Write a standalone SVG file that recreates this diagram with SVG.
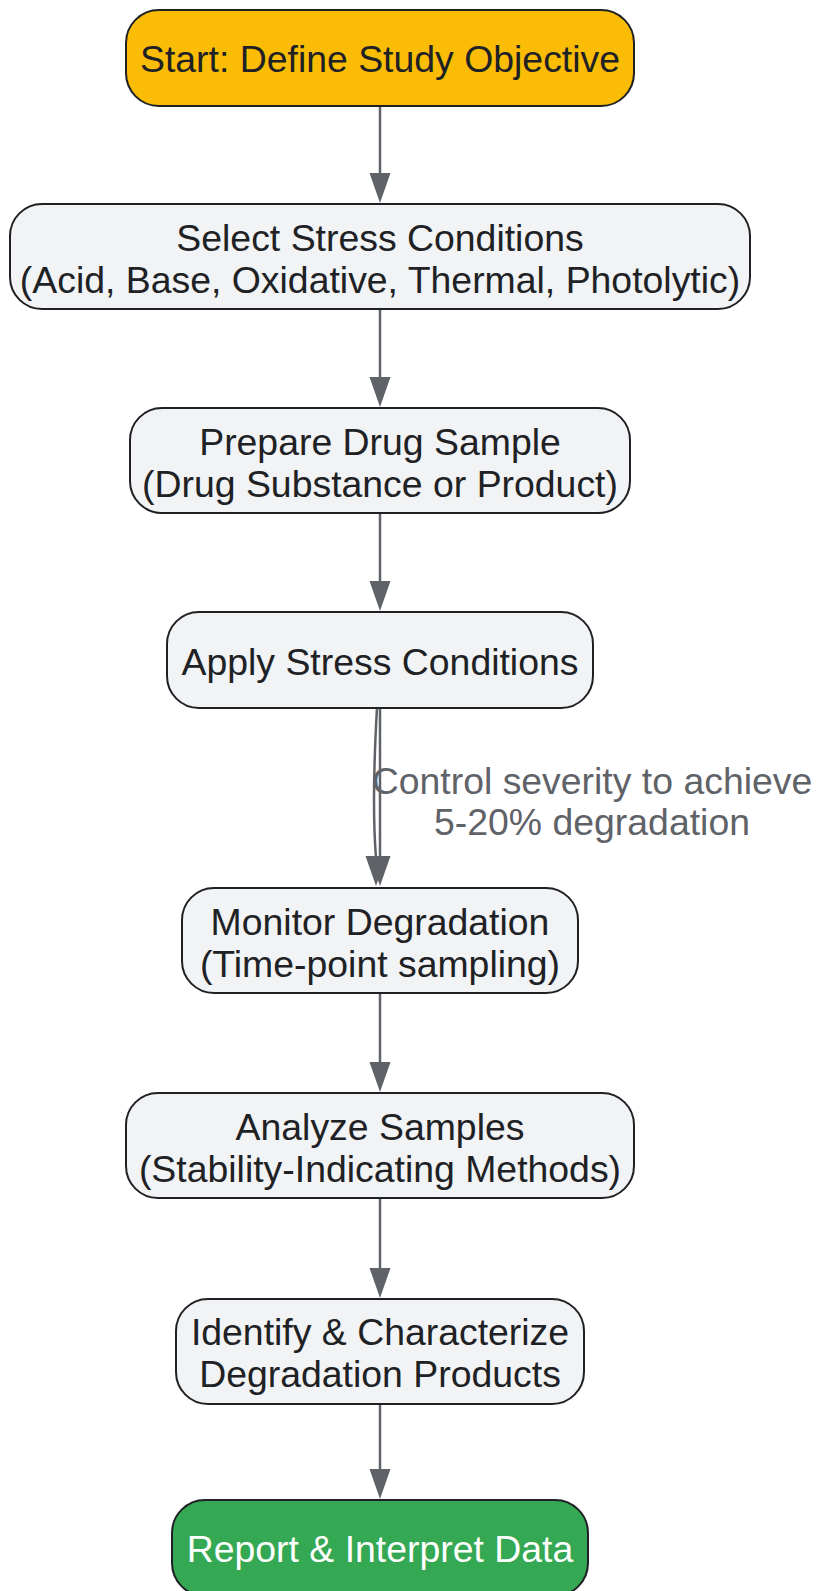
<svg xmlns="http://www.w3.org/2000/svg" width="816" height="1591" viewBox="0 0 816 1591">
<style>
.node rect{stroke:#202124;stroke-width:2;}
.g rect{fill:#f1f3f4;}
.t{font-family:"Liberation Sans",Arial,sans-serif;font-size:37.4px;fill:#202124;text-anchor:middle;}
.w{fill:#ffffff;}
.e{fill:none;stroke:#5f6368;stroke-width:2.5;}
.lbl{font-family:"Liberation Sans",Arial,sans-serif;font-size:37.4px;fill:#5f6368;text-anchor:middle;}
</style>
<rect width="816" height="1591" fill="#ffffff"/>
<g id="connectors">
<line class="e" x1="380" y1="106" x2="380" y2="174"/>
<path d="M369.5,173 L390.5,173 L380,203 Z" fill="#5f6368"/>
<line class="e" x1="380" y1="309" x2="380" y2="378"/>
<path d="M369.5,377 L390.5,377 L380,407 Z" fill="#5f6368"/>
<line class="e" x1="380" y1="513" x2="380" y2="582"/>
<path d="M369.5,581 L390.5,581 L380,611 Z" fill="#5f6368"/>
<line class="e" x1="380" y1="708" x2="380" y2="858"/>
<path class="e" d="M377,708 C374,760 373,820 376,858"/>
<path d="M365.5,856 L386.5,856 L376,886 Z" fill="#5f6368"/>
<path d="M369.5,856 L390.5,856 L380,886 Z" fill="#5f6368"/>
<text class="lbl" x="592" y="794">Control severity to achieve</text>
<text class="lbl" x="592" y="835">5-20% degradation</text>
<line class="e" x1="380" y1="993" x2="380" y2="1063"/>
<path d="M369.5,1062 L390.5,1062 L380,1092 Z" fill="#5f6368"/>
<line class="e" x1="380" y1="1198" x2="380" y2="1269"/>
<path d="M369.5,1268 L390.5,1268 L380,1298 Z" fill="#5f6368"/>
<line class="e" x1="380" y1="1404" x2="380" y2="1470"/>
<path d="M369.5,1469 L390.5,1469 L380,1499 Z" fill="#5f6368"/>
</g>
<g id="n1" class="node">
<rect x="126" y="10" width="508" height="96" rx="33" fill="#fbbc05"/>
<text class="t" x="380" y="72">Start: Define Study Objective</text>
</g>
<g id="n2" class="node g">
<rect x="10" y="204" width="740" height="105" rx="32"/>
<text class="t" x="380" y="251">Select Stress Conditions</text>
<text class="t" x="380" y="293">(Acid, Base, Oxidative, Thermal, Photolytic)</text>
</g>
<g id="n3" class="node g">
<rect x="130" y="408" width="500" height="105" rx="32"/>
<text class="t" x="380" y="455">Prepare Drug Sample</text>
<text class="t" x="380" y="497">(Drug Substance or Product)</text>
</g>
<g id="n4" class="node g">
<rect x="167" y="612" width="426" height="96" rx="32"/>
<text class="t" x="380" y="675">Apply Stress Conditions</text>
</g>
<g id="n5" class="node g">
<rect x="182" y="888" width="396" height="105" rx="32"/>
<text class="t" x="380" y="935">Monitor Degradation</text>
<text class="t" x="380" y="977">(Time-point sampling)</text>
</g>
<g id="n6" class="node g">
<rect x="126" y="1093" width="508" height="105" rx="32"/>
<text class="t" x="380" y="1139.5">Analyze Samples</text>
<text class="t" x="380" y="1181.5">(Stability-Indicating Methods)</text>
</g>
<g id="n7" class="node g">
<rect x="176" y="1299" width="408" height="105" rx="32"/>
<text class="t" x="380" y="1345">Identify &amp; Characterize</text>
<text class="t" x="380" y="1387">Degradation Products</text>
</g>
<g id="n8" class="node">
<rect x="172" y="1500" width="416" height="96" rx="33" fill="#34a853"/>
<text class="t w" x="380" y="1562">Report &amp; Interpret Data</text>
</g>
</svg>
